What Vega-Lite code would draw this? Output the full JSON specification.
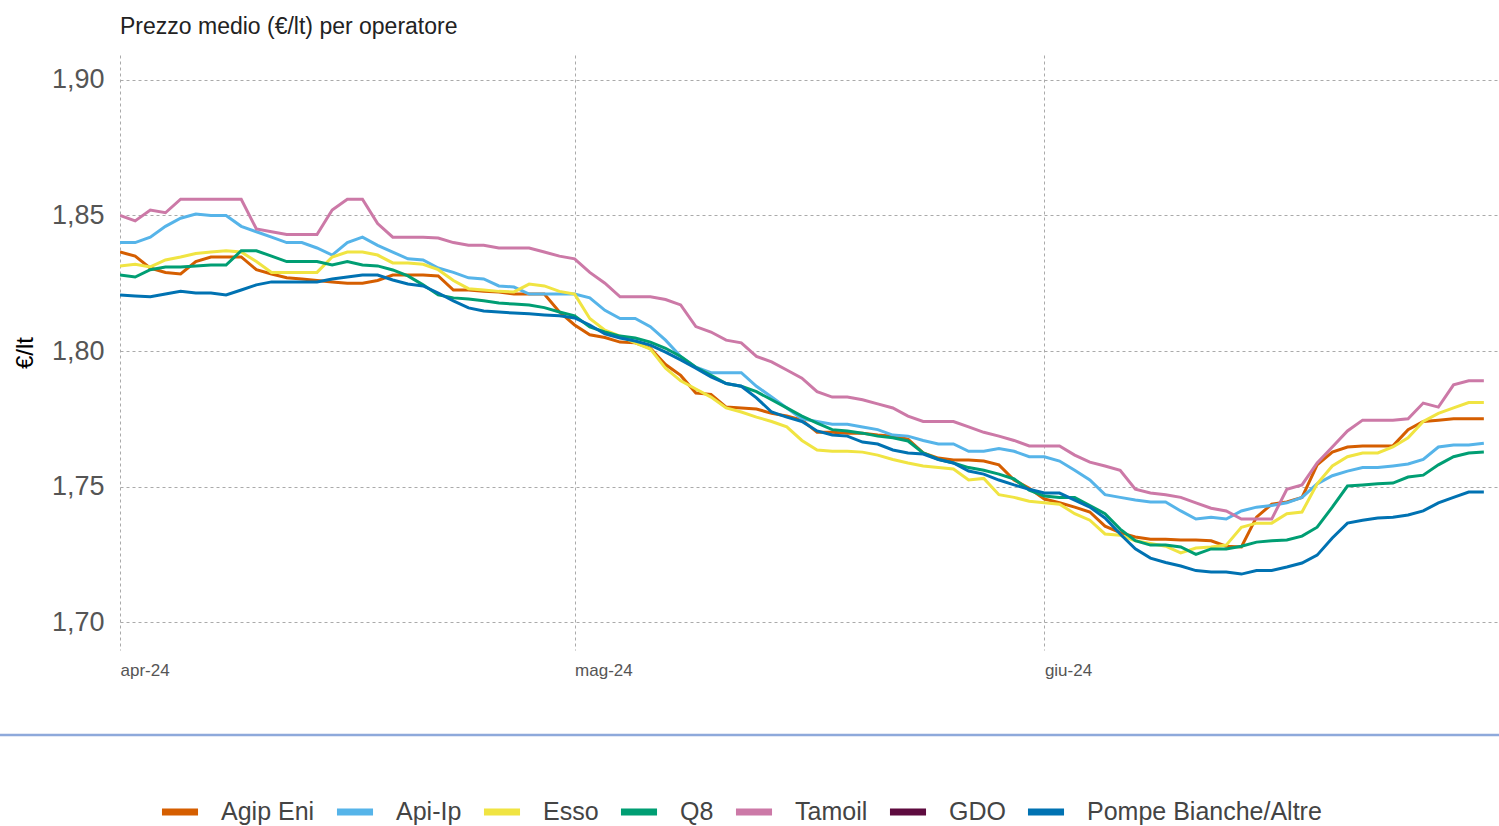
{
"$schema": "https://vega.github.io/schema/vega-lite/v6.json",
"width": 1379, "height": 595,
"autosize": {"type": "none"},
"padding": {"left": 120, "top": 55, "right": 0, "bottom": 176},
"background": "white",
"config": {"view": {"stroke": null}, "font": "Liberation Sans"},
"title": {"text": "Prezzo medio (€/lt) per operatore", "anchor": "start", "frame": "group", "fontSize": 23, "font": "Liberation Sans", "fontWeight": "normal", "color": "#222", "offset": 16},
"layer": [
{
"data": {"values": [
{"t":"2024-04-01","Agip Eni":1.8365,"Api-Ip":1.840,"Esso":1.8314,"Q8":1.828,"Tamoil":1.850,"Pompe Bianche/Altre":1.8207},
{"t":"2024-04-02","Agip Eni":1.835,"Api-Ip":1.840,"Esso":1.832,"Q8":1.8273,"Tamoil":1.848,"Pompe Bianche/Altre":1.8203},
{"t":"2024-04-03","Agip Eni":1.8306,"Api-Ip":1.842,"Esso":1.831,"Q8":1.830,"Tamoil":1.852,"Pompe Bianche/Altre":1.820},
{"t":"2024-04-04","Agip Eni":1.829,"Api-Ip":1.846,"Esso":1.8336,"Q8":1.831,"Tamoil":1.851,"Pompe Bianche/Altre":1.821},
{"t":"2024-04-05","Agip Eni":1.8284,"Api-Ip":1.849,"Esso":1.8347,"Q8":1.831,"Tamoil":1.856,"Pompe Bianche/Altre":1.822},
{"t":"2024-04-06","Agip Eni":1.833,"Api-Ip":1.8505,"Esso":1.836,"Q8":1.8314,"Tamoil":1.856,"Pompe Bianche/Altre":1.8214},
{"t":"2024-04-07","Agip Eni":1.8347,"Api-Ip":1.850,"Esso":1.8365,"Q8":1.8317,"Tamoil":1.856,"Pompe Bianche/Altre":1.8214},
{"t":"2024-04-08","Agip Eni":1.8347,"Api-Ip":1.850,"Esso":1.837,"Q8":1.8317,"Tamoil":1.856,"Pompe Bianche/Altre":1.8207},
{"t":"2024-04-09","Agip Eni":1.8347,"Api-Ip":1.846,"Esso":1.8365,"Q8":1.837,"Tamoil":1.856,"Pompe Bianche/Altre":1.8225},
{"t":"2024-04-10","Agip Eni":1.830,"Api-Ip":1.844,"Esso":1.833,"Q8":1.837,"Tamoil":1.845,"Pompe Bianche/Altre":1.8244},
{"t":"2024-04-11","Agip Eni":1.8284,"Api-Ip":1.842,"Esso":1.829,"Q8":1.835,"Tamoil":1.844,"Pompe Bianche/Altre":1.8255},
{"t":"2024-04-12","Agip Eni":1.827,"Api-Ip":1.840,"Esso":1.829,"Q8":1.833,"Tamoil":1.843,"Pompe Bianche/Altre":1.8255},
{"t":"2024-04-13","Agip Eni":1.8266,"Api-Ip":1.840,"Esso":1.829,"Q8":1.833,"Tamoil":1.843,"Pompe Bianche/Altre":1.8255},
{"t":"2024-04-14","Agip Eni":1.826,"Api-Ip":1.838,"Esso":1.829,"Q8":1.833,"Tamoil":1.843,"Pompe Bianche/Altre":1.8255},
{"t":"2024-04-15","Agip Eni":1.8255,"Api-Ip":1.8354,"Esso":1.8347,"Q8":1.8317,"Tamoil":1.852,"Pompe Bianche/Altre":1.8266},
{"t":"2024-04-16","Agip Eni":1.825,"Api-Ip":1.840,"Esso":1.8365,"Q8":1.833,"Tamoil":1.856,"Pompe Bianche/Altre":1.8273},
{"t":"2024-04-17","Agip Eni":1.825,"Api-Ip":1.842,"Esso":1.8365,"Q8":1.8317,"Tamoil":1.856,"Pompe Bianche/Altre":1.828},
{"t":"2024-04-18","Agip Eni":1.826,"Api-Ip":1.839,"Esso":1.8354,"Q8":1.8314,"Tamoil":1.847,"Pompe Bianche/Altre":1.828},
{"t":"2024-04-19","Agip Eni":1.828,"Api-Ip":1.8365,"Esso":1.8325,"Q8":1.8299,"Tamoil":1.842,"Pompe Bianche/Altre":1.8262},
{"t":"2024-04-20","Agip Eni":1.828,"Api-Ip":1.834,"Esso":1.8325,"Q8":1.8277,"Tamoil":1.842,"Pompe Bianche/Altre":1.8247},
{"t":"2024-04-21","Agip Eni":1.828,"Api-Ip":1.8336,"Esso":1.832,"Q8":1.8244,"Tamoil":1.842,"Pompe Bianche/Altre":1.824},
{"t":"2024-04-22","Agip Eni":1.8277,"Api-Ip":1.8306,"Esso":1.830,"Q8":1.8207,"Tamoil":1.8417,"Pompe Bianche/Altre":1.8214},
{"t":"2024-04-23","Agip Eni":1.8225,"Api-Ip":1.829,"Esso":1.826,"Q8":1.8196,"Tamoil":1.840,"Pompe Bianche/Altre":1.8185},
{"t":"2024-04-24","Agip Eni":1.8225,"Api-Ip":1.827,"Esso":1.823,"Q8":1.8192,"Tamoil":1.839,"Pompe Bianche/Altre":1.8159},
{"t":"2024-04-25","Agip Eni":1.822,"Api-Ip":1.8266,"Esso":1.8225,"Q8":1.8185,"Tamoil":1.839,"Pompe Bianche/Altre":1.8148},
{"t":"2024-04-26","Agip Eni":1.8218,"Api-Ip":1.824,"Esso":1.822,"Q8":1.8177,"Tamoil":1.838,"Pompe Bianche/Altre":1.8144},
{"t":"2024-04-27","Agip Eni":1.821,"Api-Ip":1.8236,"Esso":1.8218,"Q8":1.8173,"Tamoil":1.838,"Pompe Bianche/Altre":1.814},
{"t":"2024-04-28","Agip Eni":1.821,"Api-Ip":1.821,"Esso":1.8247,"Q8":1.817,"Tamoil":1.838,"Pompe Bianche/Altre":1.8137},
{"t":"2024-04-29","Agip Eni":1.821,"Api-Ip":1.821,"Esso":1.824,"Q8":1.816,"Tamoil":1.8365,"Pompe Bianche/Altre":1.8133},
{"t":"2024-04-30","Agip Eni":1.8144,"Api-Ip":1.821,"Esso":1.822,"Q8":1.8144,"Tamoil":1.835,"Pompe Bianche/Altre":1.813},
{"t":"2024-05-01","Agip Eni":1.8096,"Api-Ip":1.821,"Esso":1.821,"Q8":1.813,"Tamoil":1.834,"Pompe Bianche/Altre":1.8122},
{"t":"2024-05-02","Agip Eni":1.806,"Api-Ip":1.8196,"Esso":1.812,"Q8":1.8089,"Tamoil":1.829,"Pompe Bianche/Altre":1.8096},
{"t":"2024-05-03","Agip Eni":1.805,"Api-Ip":1.815,"Esso":1.8077,"Q8":1.807,"Tamoil":1.825,"Pompe Bianche/Altre":1.8063},
{"t":"2024-05-04","Agip Eni":1.8033,"Api-Ip":1.812,"Esso":1.8055,"Q8":1.8055,"Tamoil":1.820,"Pompe Bianche/Altre":1.8048},
{"t":"2024-05-05","Agip Eni":1.803,"Api-Ip":1.812,"Esso":1.803,"Q8":1.8048,"Tamoil":1.820,"Pompe Bianche/Altre":1.8037},
{"t":"2024-05-06","Agip Eni":1.801,"Api-Ip":1.809,"Esso":1.8007,"Q8":1.8033,"Tamoil":1.820,"Pompe Bianche/Altre":1.8022},
{"t":"2024-05-07","Agip Eni":1.795,"Api-Ip":1.804,"Esso":1.7937,"Q8":1.801,"Tamoil":1.819,"Pompe Bianche/Altre":1.7996},
{"t":"2024-05-08","Agip Eni":1.791,"Api-Ip":1.798,"Esso":1.789,"Q8":1.798,"Tamoil":1.817,"Pompe Bianche/Altre":1.7967},
{"t":"2024-05-09","Agip Eni":1.7845,"Api-Ip":1.794,"Esso":1.786,"Q8":1.794,"Tamoil":1.809,"Pompe Bianche/Altre":1.7937},
{"t":"2024-05-10","Agip Eni":1.784,"Api-Ip":1.792,"Esso":1.783,"Q8":1.791,"Tamoil":1.807,"Pompe Bianche/Altre":1.7904},
{"t":"2024-05-11","Agip Eni":1.7793,"Api-Ip":1.792,"Esso":1.779,"Q8":1.788,"Tamoil":1.804,"Pompe Bianche/Altre":1.788},
{"t":"2024-05-12","Agip Eni":1.779,"Api-Ip":1.792,"Esso":1.7775,"Q8":1.787,"Tamoil":1.803,"Pompe Bianche/Altre":1.787},
{"t":"2024-05-13","Agip Eni":1.7786,"Api-Ip":1.787,"Esso":1.7756,"Q8":1.785,"Tamoil":1.798,"Pompe Bianche/Altre":1.7827},
{"t":"2024-05-14","Agip Eni":1.777,"Api-Ip":1.783,"Esso":1.774,"Q8":1.782,"Tamoil":1.796,"Pompe Bianche/Altre":1.7775},
{"t":"2024-05-15","Agip Eni":1.776,"Api-Ip":1.779,"Esso":1.772,"Q8":1.779,"Tamoil":1.793,"Pompe Bianche/Altre":1.7756},
{"t":"2024-05-16","Agip Eni":1.7745,"Api-Ip":1.775,"Esso":1.767,"Q8":1.776,"Tamoil":1.790,"Pompe Bianche/Altre":1.774},
{"t":"2024-05-17","Agip Eni":1.770,"Api-Ip":1.774,"Esso":1.7635,"Q8":1.7734,"Tamoil":1.785,"Pompe Bianche/Altre":1.7705},
{"t":"2024-05-18","Agip Eni":1.770,"Api-Ip":1.773,"Esso":1.763,"Q8":1.771,"Tamoil":1.783,"Pompe Bianche/Altre":1.769},
{"t":"2024-05-19","Agip Eni":1.7697,"Api-Ip":1.773,"Esso":1.763,"Q8":1.7705,"Tamoil":1.783,"Pompe Bianche/Altre":1.7686},
{"t":"2024-05-20","Agip Eni":1.7697,"Api-Ip":1.772,"Esso":1.7627,"Q8":1.7697,"Tamoil":1.782,"Pompe Bianche/Altre":1.7664},
{"t":"2024-05-21","Agip Eni":1.769,"Api-Ip":1.771,"Esso":1.7616,"Q8":1.7686,"Tamoil":1.7805,"Pompe Bianche/Altre":1.7657},
{"t":"2024-05-22","Agip Eni":1.7686,"Api-Ip":1.769,"Esso":1.760,"Q8":1.768,"Tamoil":1.779,"Pompe Bianche/Altre":1.7635},
{"t":"2024-05-23","Agip Eni":1.7675,"Api-Ip":1.7686,"Esso":1.7587,"Q8":1.7668,"Tamoil":1.776,"Pompe Bianche/Altre":1.7624},
{"t":"2024-05-24","Agip Eni":1.7624,"Api-Ip":1.767,"Esso":1.7576,"Q8":1.7624,"Tamoil":1.774,"Pompe Bianche/Altre":1.762},
{"t":"2024-05-25","Agip Eni":1.7605,"Api-Ip":1.7657,"Esso":1.757,"Q8":1.760,"Tamoil":1.774,"Pompe Bianche/Altre":1.760},
{"t":"2024-05-26","Agip Eni":1.7598,"Api-Ip":1.7657,"Esso":1.7565,"Q8":1.7587,"Tamoil":1.774,"Pompe Bianche/Altre":1.7587},
{"t":"2024-05-27","Agip Eni":1.7598,"Api-Ip":1.763,"Esso":1.7524,"Q8":1.757,"Tamoil":1.772,"Pompe Bianche/Altre":1.7557},
{"t":"2024-05-28","Agip Eni":1.7594,"Api-Ip":1.763,"Esso":1.753,"Q8":1.756,"Tamoil":1.770,"Pompe Bianche/Altre":1.7546},
{"t":"2024-05-29","Agip Eni":1.758,"Api-Ip":1.764,"Esso":1.747,"Q8":1.7546,"Tamoil":1.7686,"Pompe Bianche/Altre":1.7524},
{"t":"2024-05-30","Agip Eni":1.7524,"Api-Ip":1.763,"Esso":1.746,"Q8":1.7528,"Tamoil":1.767,"Pompe Bianche/Altre":1.7506},
{"t":"2024-05-31","Agip Eni":1.7494,"Api-Ip":1.761,"Esso":1.7446,"Q8":1.7487,"Tamoil":1.765,"Pompe Bianche/Altre":1.749},
{"t":"2024-06-01","Agip Eni":1.7454,"Api-Ip":1.761,"Esso":1.744,"Q8":1.7465,"Tamoil":1.765,"Pompe Bianche/Altre":1.7476},
{"t":"2024-06-02","Agip Eni":1.744,"Api-Ip":1.7594,"Esso":1.7435,"Q8":1.746,"Tamoil":1.765,"Pompe Bianche/Altre":1.7476},
{"t":"2024-06-03","Agip Eni":1.7424,"Api-Ip":1.756,"Esso":1.740,"Q8":1.746,"Tamoil":1.7616,"Pompe Bianche/Altre":1.745},
{"t":"2024-06-04","Agip Eni":1.7406,"Api-Ip":1.7524,"Esso":1.7376,"Q8":1.743,"Tamoil":1.759,"Pompe Bianche/Altre":1.7424},
{"t":"2024-06-05","Agip Eni":1.7354,"Api-Ip":1.747,"Esso":1.7325,"Q8":1.740,"Tamoil":1.7576,"Pompe Bianche/Altre":1.7384},
{"t":"2024-06-06","Agip Eni":1.733,"Api-Ip":1.746,"Esso":1.732,"Q8":1.7343,"Tamoil":1.756,"Pompe Bianche/Altre":1.7325},
{"t":"2024-06-07","Agip Eni":1.7314,"Api-Ip":1.745,"Esso":1.730,"Q8":1.730,"Tamoil":1.749,"Pompe Bianche/Altre":1.727},
{"t":"2024-06-08","Agip Eni":1.7306,"Api-Ip":1.7443,"Esso":1.729,"Q8":1.7284,"Tamoil":1.7476,"Pompe Bianche/Altre":1.7236},
{"t":"2024-06-09","Agip Eni":1.7306,"Api-Ip":1.7443,"Esso":1.728,"Q8":1.7284,"Tamoil":1.747,"Pompe Bianche/Altre":1.722},
{"t":"2024-06-10","Agip Eni":1.7303,"Api-Ip":1.741,"Esso":1.7255,"Q8":1.7277,"Tamoil":1.746,"Pompe Bianche/Altre":1.7207},
{"t":"2024-06-11","Agip Eni":1.7303,"Api-Ip":1.738,"Esso":1.7273,"Q8":1.725,"Tamoil":1.744,"Pompe Bianche/Altre":1.719},
{"t":"2024-06-12","Agip Eni":1.730,"Api-Ip":1.7387,"Esso":1.7277,"Q8":1.727,"Tamoil":1.742,"Pompe Bianche/Altre":1.7185},
{"t":"2024-06-13","Agip Eni":1.728,"Api-Ip":1.738,"Esso":1.7284,"Q8":1.727,"Tamoil":1.741,"Pompe Bianche/Altre":1.7185},
{"t":"2024-06-14","Agip Eni":1.7277,"Api-Ip":1.741,"Esso":1.735,"Q8":1.728,"Tamoil":1.738,"Pompe Bianche/Altre":1.7177},
{"t":"2024-06-15","Agip Eni":1.7387,"Api-Ip":1.7424,"Esso":1.7365,"Q8":1.7295,"Tamoil":1.738,"Pompe Bianche/Altre":1.719},
{"t":"2024-06-16","Agip Eni":1.7435,"Api-Ip":1.743,"Esso":1.7365,"Q8":1.730,"Tamoil":1.738,"Pompe Bianche/Altre":1.719},
{"t":"2024-06-17","Agip Eni":1.7443,"Api-Ip":1.744,"Esso":1.740,"Q8":1.7303,"Tamoil":1.749,"Pompe Bianche/Altre":1.7203},
{"t":"2024-06-18","Agip Eni":1.746,"Api-Ip":1.746,"Esso":1.7406,"Q8":1.7317,"Tamoil":1.7506,"Pompe Bianche/Altre":1.7218},
{"t":"2024-06-19","Agip Eni":1.758,"Api-Ip":1.751,"Esso":1.751,"Q8":1.735,"Tamoil":1.7587,"Pompe Bianche/Altre":1.7247},
{"t":"2024-06-20","Agip Eni":1.7627,"Api-Ip":1.754,"Esso":1.7576,"Q8":1.7424,"Tamoil":1.7646,"Pompe Bianche/Altre":1.731},
{"t":"2024-06-21","Agip Eni":1.7646,"Api-Ip":1.7557,"Esso":1.761,"Q8":1.7502,"Tamoil":1.7705,"Pompe Bianche/Altre":1.7365},
{"t":"2024-06-22","Agip Eni":1.765,"Api-Ip":1.757,"Esso":1.7624,"Q8":1.7506,"Tamoil":1.7745,"Pompe Bianche/Altre":1.7376},
{"t":"2024-06-23","Agip Eni":1.765,"Api-Ip":1.757,"Esso":1.7624,"Q8":1.751,"Tamoil":1.7745,"Pompe Bianche/Altre":1.7384},
{"t":"2024-06-24","Agip Eni":1.765,"Api-Ip":1.7576,"Esso":1.7646,"Q8":1.7513,"Tamoil":1.7745,"Pompe Bianche/Altre":1.7387},
{"t":"2024-06-25","Agip Eni":1.771,"Api-Ip":1.7583,"Esso":1.768,"Q8":1.7535,"Tamoil":1.775,"Pompe Bianche/Altre":1.7395},
{"t":"2024-06-26","Agip Eni":1.774,"Api-Ip":1.760,"Esso":1.774,"Q8":1.7542,"Tamoil":1.7808,"Pompe Bianche/Altre":1.741},
{"t":"2024-06-27","Agip Eni":1.7745,"Api-Ip":1.7646,"Esso":1.777,"Q8":1.758,"Tamoil":1.7793,"Pompe Bianche/Altre":1.744},
{"t":"2024-06-28","Agip Eni":1.775,"Api-Ip":1.7653,"Esso":1.779,"Q8":1.761,"Tamoil":1.7875,"Pompe Bianche/Altre":1.746},
{"t":"2024-06-29","Agip Eni":1.775,"Api-Ip":1.7653,"Esso":1.781,"Q8":1.7624,"Tamoil":1.789,"Pompe Bianche/Altre":1.748},
{"t":"2024-06-30","Agip Eni":1.775,"Api-Ip":1.766,"Esso":1.781,"Q8":1.7627,"Tamoil":1.789,"Pompe Bianche/Altre":1.748}
]},
"transform": [{"fold": ["Agip Eni", "Api-Ip", "Esso", "Q8", "Tamoil", "Pompe Bianche/Altre"], "as": ["op", "v"]}],
"mark": {"type": "line", "strokeWidth": 3, "clip": true},
"encoding": {
"x": {"field": "t", "type": "temporal", "title": null,
 "scale": {"type": "utc", "domain": [{"year": 2024, "month": 4, "date": 1, "utc": true}, {"year": 2024, "month": 7, "date": 1, "utc": true}]},
 "axis": {"values": [{"year": 2024, "month": 4, "date": 1, "utc": true}, {"year": 2024, "month": 5, "date": 1, "utc": true}, {"year": 2024, "month": 6, "date": 1, "utc": true}],
  "labelExpr": "['gen','feb','mar','apr','mag','giu','lug','ago','set','ott','nov','dic'][utcmonth(datum.value)] + '-' + utcFormat(datum.value, '%y')",
  "grid": true, "gridDash": [3, 3], "gridColor": "#aaaaaa", "gridWidth": 1, "ticks": false, "domain": false,
  "labelFontSize": 17, "labelAlign": "left", "labelPadding": 12, "labelColor": "#555555", "labelFont": "Liberation Sans"}},
"y": {"field": "v", "type": "quantitative",
 "scale": {"domain": [1.6897, 1.9092], "nice": false, "zero": false},
 "axis": {"values": [1.70, 1.75, 1.80, 1.85, 1.90], "labelExpr": "replace(format(datum.value, '.2f'), '.', ',')",
  "labelFontSize": 27, "labelColor": "#555555", "labelPadding": 16, "labelFont": "Liberation Sans", "ticks": false, "domain": false,
  "grid": true, "gridDash": [3, 3], "gridColor": "#aaaaaa", "gridWidth": 1,
  "title": "€/lt", "titleFontSize": 24, "titleFontWeight": "normal", "titleColor": "#000000", "titlePadding": 14, "titleFont": "Liberation Sans"}},
"color": {"field": "op", "type": "nominal",
 "scale": {"domain": ["Agip Eni", "Api-Ip", "Esso", "Q8", "Tamoil", "GDO", "Pompe Bianche/Altre"],
  "range": ["#D55E00", "#56B4E9", "#F0E442", "#009E73", "#CC79A7", "#5E0B3F", "#0072B2"]},
 "legend": {"orient": "none", "legendX": 38, "legendY": 735, "direction": "horizontal", "columns": 7, "title": null, "gridAlign": "none",
  "symbolType": "stroke", "symbolSize": 1300, "symbolStrokeWidth": 7, "labelFontSize": 25, "labelColor": "#444444",
  "labelFont": "Liberation Sans", "labelOffset": 19, "columnPadding": 7, "padding": 0, "labelLimit": 400}}
}
},
{
"data": {"values": [{}]},
"mark": {"type": "rule", "color": "#8EA9DB", "strokeWidth": 2.5, "clip": false},
"encoding": {
"x": {"datum": {"year": 2024, "month": 3, "date": 24, "utc": true}, "type": "temporal"},
"x2": {"datum": {"year": 2024, "month": 7, "date": 2, "utc": true}},
"y": {"datum": 1.6583, "type": "quantitative"}
}
}
]
}
